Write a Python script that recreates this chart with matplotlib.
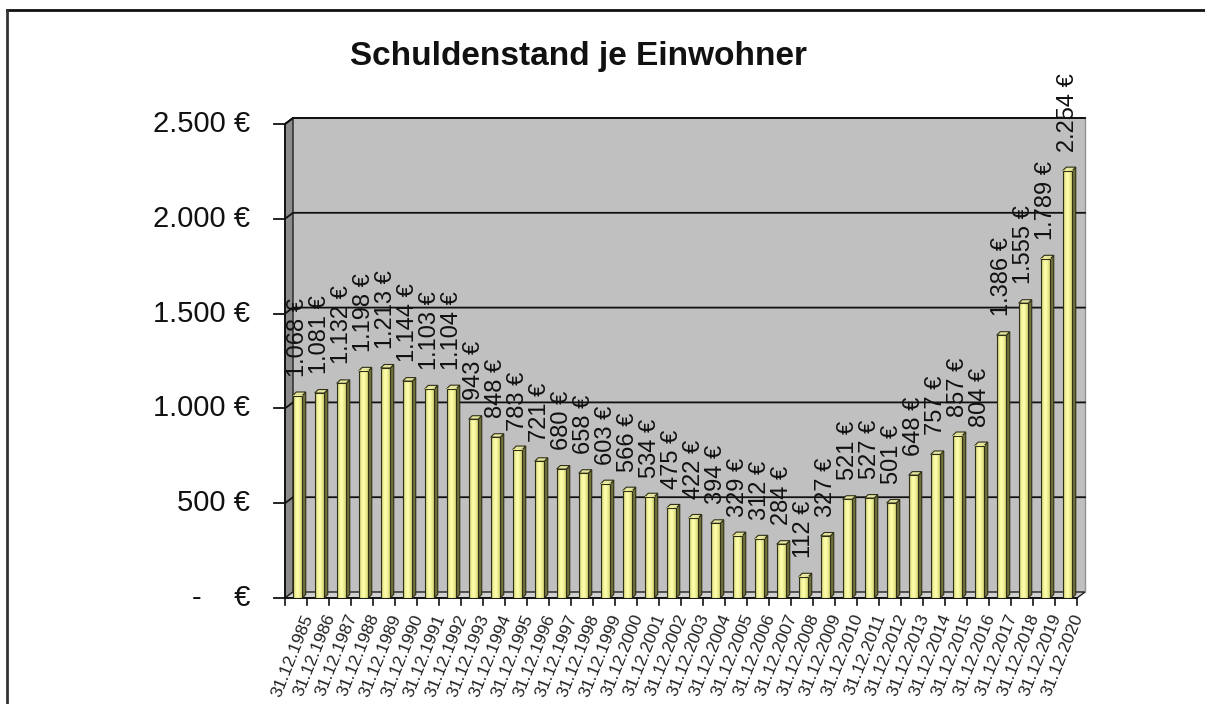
import matplotlib
matplotlib.use("Agg")
import matplotlib.pyplot as plt
import numpy as np
from matplotlib.patches import Polygon, Rectangle
from matplotlib.colors import LinearSegmentedColormap

plt.rcParams["font.family"] = ["Liberation Sans", "DejaVu Sans"]

years = list(range(1985, 2021))
dates = [f"31.12.{y}" for y in years]
values = [1068, 1081, 1132, 1198, 1213, 1144, 1103, 1104, 943, 848,
          783, 721, 680, 658, 603, 566, 534, 475, 422, 394,
          329, 312, 284, 112, 327, 521, 527, 501, 648, 757,
          857, 804, 1386, 1555, 1789, 2254]
yticks = [0, 500, 1000, 1500, 2000, 2500]
ytick_labels = ["-    €", "500 €", "1.000 €", "1.500 €", "2.000 €", "2.500 €"]
title = "Schuldenstand je Einwohner"


def eur(v):
    return f"{v:,}".replace(",", ".") + " €"


W, H, DPI = 1205, 704, 100
fig = plt.figure(figsize=(W / DPI, H / DPI), dpi=DPI)

# axes in pixel units: front plane of the 3d box
left_px, right_px, bottom_px, top_px = 285, 1077, 598, 124
ax = fig.add_axes([left_px / W, 1 - bottom_px / H,
                   (right_px - left_px) / W, (bottom_px - top_px) / H])
n = len(values)
ymax = 2500
ax.set_xlim(0, n)
ax.set_ylim(0, ymax)
ax.set_axis_off()

px_x = n / (right_px - left_px)          # data units per pixel, x
px_y = ymax / (bottom_px - top_px)       # data units per pixel, y
dx, dy = 8 * px_x, 6 * px_y              # wall depth

# back wall
ax.add_patch(Rectangle((dx, dy), n, ymax, facecolor="#c0c0c0",
                       edgecolor="none", zorder=0, clip_on=False))
# left side wall
ax.add_patch(Polygon([(0, 0), (0, ymax), (dx, ymax + dy), (dx, dy)],
                     closed=True, facecolor="#8c8c8c", edgecolor="#202020",
                     lw=1.0, zorder=1, clip_on=False))
# floor
ax.add_patch(Polygon([(0, 0), (n, 0), (n + dx, dy), (dx, dy)],
                     closed=True, facecolor="#d0d0d0", edgecolor="#202020",
                     lw=1.0, zorder=1, clip_on=False))
# right edge of back wall
ax.plot([n + dx, n + dx], [dy, ymax + dy], color="#909090", lw=1,
        zorder=1, clip_on=False)

# gridlines on back wall and side wall
for v in yticks[1:]:
    ax.plot([0, dx, n + dx], [v, v + dy, v + dy], color="#111111",
            lw=1.3, zorder=2, clip_on=False)

# y axis and ticks
ax.plot([0, 0], [0, ymax], color="#111111", lw=1.3, zorder=5, clip_on=False)
for v, lab in zip(yticks, ytick_labels):
    ax.plot([-11 * px_x, 0], [v, v], color="#111111", lw=1.3, zorder=5,
            clip_on=False)
    ax.text(-35 * px_x, v, lab, ha="right", va="center", fontsize=21,
            color="#111111")

# x ticks and labels
ax.plot([0, n], [0, 0], color="#111111", lw=1.3, zorder=5, clip_on=False)
for i in range(n + 1):
    ax.plot([i, i], [0, -7 * px_y], color="#111111", lw=1.2, zorder=5,
            clip_on=False)
for i, d in enumerate(dates):
    ax.text(i + 0.5 + 6 * px_x, -14 * px_y, d, rotation=68,
            rotation_mode="anchor", ha="right", va="top", fontsize=12.5,
            color="#222222")

# bars with a little depth
bw = 9.5 * px_x
bdx, bdy = 3.5 * px_x, 3.5 * px_y
grad = LinearSegmentedColormap.from_list(
    "bar", ["#b8b868", "#f4f49a", "#ffffb0", "#e8e888", "#c0c070"])
g = np.linspace(0, 1, 32).reshape(1, -1)
for i, v in enumerate(values):
    x0 = i + 0.5 + 1.5 * px_x - bw / 2
    # side
    ax.add_patch(Polygon([(x0 + bw, 0), (x0 + bw + bdx, bdy),
                          (x0 + bw + bdx, v + bdy), (x0 + bw, v)],
                         closed=True, facecolor="#6f6f3c", edgecolor="#303018",
                         lw=0.8, zorder=6))
    # top
    ax.add_patch(Polygon([(x0, v), (x0 + bw, v), (x0 + bw + bdx, v + bdy),
                          (x0 + bdx, v + bdy)],
                         closed=True, facecolor="#e6e6a0", edgecolor="#303018",
                         lw=0.8, zorder=6))
    # front
    ax.imshow(g, cmap=grad, extent=(x0, x0 + bw, 0, v), aspect="auto",
              zorder=6.5, interpolation="bilinear")
    ax.add_patch(Rectangle((x0, 0), bw, v, facecolor="none",
                           edgecolor="#303018", lw=0.8, zorder=7))
    # value label
    ax.text(x0 + bw / 2, v + 19 * px_y, eur(v), rotation=90, ha="center",
            va="bottom", fontsize=17, color="#111111", zorder=8)

ax.set_xlim(0, n)
ax.set_ylim(0, ymax)

# top edge of back wall
ax.plot([0, dx, n + dx], [ymax, ymax + dy, ymax + dy], color="#111111",
        lw=1.3, zorder=2, clip_on=False)

fig.text(579 / W, 1 - 57 / H, title, ha="center", va="center",
         fontsize=24, fontweight="bold", color="#111111")

# chart frame (top and left visible)
fig.add_artist(plt.Line2D([7 / W, 1], [1 - 10 / H, 1 - 10 / H],
                          transform=fig.transFigure, color="#111111", lw=2))
fig.add_artist(plt.Line2D([7 / W, 7 / W], [0, 1 - 10 / H],
                          transform=fig.transFigure, color="#333333", lw=2))

fig.savefig("out.png", dpi=DPI)
